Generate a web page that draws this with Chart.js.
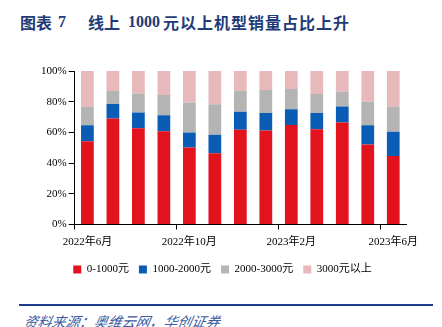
<!DOCTYPE html>
<html><head><meta charset="utf-8">
<script src="https://cdn.jsdelivr.net/npm/chart.js@4.4.0/dist/chart.umd.min.js"></script>
<style>
html,body{margin:0;padding:0;background:#fff;width:442px;height:327px;overflow:hidden;position:relative;}
.t{position:absolute;top:12px;font-family:"Liberation Serif","Noto Sans CJK SC",serif;font-weight:bold;font-size:16px;color:#1F3C78;line-height:20px;white-space:nowrap;}
.cjk{font-family:"Noto Sans CJK SC",sans-serif;}
#wrap{position:absolute;left:0;top:55px;width:442px;height:230px;}
#line{position:absolute;left:19px;top:304px;width:414px;height:2px;background:#1F3C8C;}
#src{position:absolute;left:22px;top:312px;font-family:"Noto Sans CJK SC",sans-serif;font-style:italic;font-size:14px;color:#3D5AA0;line-height:18px;white-space:nowrap;transform:skewX(-12deg);transform-origin:left bottom;}
</style></head>
<body>
<div class="t cjk" style="left:20px;">图表</div>
<div class="t" style="left:58px;">7</div>
<div class="t cjk" style="left:88px;">线上</div>
<div class="t" style="left:128px;">1000</div>
<div class="t cjk" style="left:163px;letter-spacing:1px;">元以上机型销量占比上升</div>
<div id="wrap"><canvas id="c"></canvas></div>
<div id="line"></div>
<div id="src">资料来源：奥维云网，华创证券</div>
<script>
const categories = ["2022年6月","2022年7月","2022年8月","2022年9月","2022年10月","2022年11月","2022年12月","2023年1月","2023年2月","2023年3月","2023年4月","2023年5月","2023年6月"];
const seriesNames = ["0-1000元","1000-2000元","2000-3000元","3000元以上"];
const s0to1000   = [54.3, 69.1, 62.7, 60.7, 50.2, 46.4, 61.8, 61.2, 64.8, 62.0, 66.5, 52.1, 44.6];
const s1000to2000 = [10.3, 9.4, 10.3, 10.5, 9.7, 12.0, 11.6, 11.5, 10.3, 10.7, 10.3, 12.5, 15.9];
const s2000to3000 = [12.0, 8.4, 12.4, 13.1, 19.5, 19.9, 13.7, 14.9, 13.1, 12.3, 9.7, 15.4, 16.3];
const s3000plus  = [23.4, 13.1, 14.6, 15.7, 20.6, 21.7, 12.9, 12.4, 11.8, 15.0, 13.5, 20.0, 23.2];
const yTicks = [0,10,20,30,40,50,60,70,80,90,100];
const colors = ["#E3131E","#0B5CB5","#B4B4B4","#E8B9BA"];
const allSeries = [s0to1000, s1000to2000, s2000to3000, s3000plus];

const serif = "'Liberation Serif','Noto Sans CJK SC',serif";
new Chart(document.getElementById('c'), {
  type: 'bar',
  data: {
    labels: categories,
    datasets: allSeries.map((d,i)=>({label: seriesNames[i], data: d, backgroundColor: colors[i], borderWidth: 0, barPercentage: 0.5, categoryPercentage: 1.0}))
  },
  options: {
    responsive: true, maintainAspectRatio: false, animation: false,
    layout: {padding: {top: 16, right: 36, left: 39, bottom: 0}},
    plugins: {
      tooltip: {enabled: false},
      legend: {position: 'bottom', labels: {boxWidth: 8, boxHeight: 8, padding: 10, color: '#000', font: {family: serif, size: 11}}}
    },
    scales: {
      x: {
        stacked: true,
        border: {display: true, color: '#000', width: 1},
        grid: {display: true, offset: true, drawOnChartArea: false, drawTicks: true, tickLength: 5,
               color: ctx => (ctx.index % 4 === 0 ? '#000' : 'rgba(0,0,0,0)')},
        ticks: {autoSkip: false, maxRotation: 0, padding: 4, color: '#000', font: {family: serif, size: 11, lineHeight: 1.5},
                callback: (v, i) => (i % 4 === 0 ? categories[i] : '')}
      },
      y: {
        stacked: true, min: 0, max: 100,
        border: {display: true, color: '#000', width: 1},
        grid: {display: true, drawOnChartArea: false, drawTicks: true, tickLength: 6, color: '#000'},
        afterBuildTicks: s => { s.ticks = yTicks.map(v => ({value: v})); },
        ticks: {padding: 2, color: '#000', font: {family: serif, size: 11}, callback: v => v + '%'}
      }
    }
  }
});
</script>
</body></html>
